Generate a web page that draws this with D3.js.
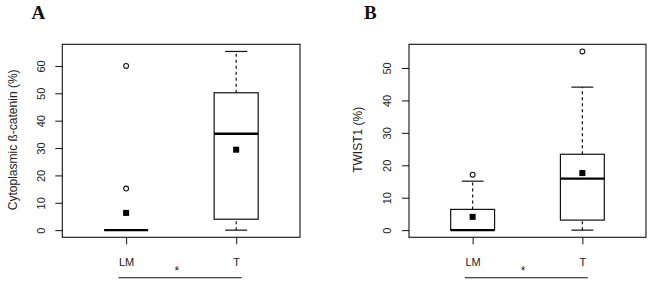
<!DOCTYPE html>
<html>
<head>
<meta charset="utf-8">
<script src="https://cdn.jsdelivr.net/npm/d3@7"></script>
<style>
  body { margin: 0; background: #fff; }
  svg { display: block; }
</style>
</head>
<body>
<div id="chart"></div>
<script>
// groups on the x axis
var categories = ['LM', 'T'];

// panel A: cytoplasmic beta-catenin (%)
var betaLow = [0, 0];        // lower whisker
var betaQ1 = [0, 4];
var betaMedian = [0, 35.2];
var betaQ3 = [0, 50.2];
var betaHigh = [0, 65.3];    // upper whisker
var betaMean = [6.3, 29.4];
var betaOutliers = [[60, 15.2], []];
var betaTicks = [0, 10, 20, 30, 40, 50, 60];

// panel B: TWIST1 (%)
var twistLow = [0, 0];
var twistQ1 = [0, 3.1];
var twistMedian = [0, 15.9];
var twistQ3 = [6.4, 23.4];
var twistHigh = [15.1, 44.1];
var twistMean = [4.1, 17.6];
var twistOutliers = [[17.1], [55.1]];
var twistTicks = [0, 10, 20, 30, 40, 50];

var width = 650;
var height = 283;
var font = '"Liberation Sans", Arial, sans-serif';
var textColor = '#222';

var svg = d3.select('#chart').append('svg')
    .attr('width', width)
    .attr('height', height);

drawPanel({
    letter: 'A', letterX: 31.5,
    left: 62.3, right: 300, top: 44.3, bottom: 237.3,
    ymax: 65.3, ticks: betaTicks,
    tickLabelX: 45.3, titleX: 16.5,
    title: 'Cytoplasmic \u00df-catenin (%)',
    low: betaLow, q1: betaQ1, med: betaMedian, q3: betaQ3, high: betaHigh,
    mean: betaMean, outliers: betaOutliers
});

drawPanel({
    letter: 'B', letterX: 364,
    left: 409, right: 646, top: 44.3, bottom: 237.3,
    ymax: 55.1, ticks: twistTicks,
    tickLabelX: 390.5, titleX: 361.5,
    title: 'TWIST1 (%)',
    low: twistLow, q1: twistQ1, med: twistMedian, q3: twistQ3, high: twistHigh,
    mean: twistMean, outliers: twistOutliers
});

function drawPanel(p) {
    var g = svg.append('g');

    // R style 4% padding on both axes
    var pad = p.ymax * 0.04;
    var y = d3.scaleLinear()
        .domain([-pad, p.ymax + pad])
        .range([p.bottom, p.top]);
    var x = d3.scaleLinear()
        .domain([0.42, 2.58])
        .range([p.left, p.right]);
    var boxW = x(1.4) - x(1);
    var capW = boxW / 2;

    // panel letter
    g.append('text')
        .attr('x', p.letterX)
        .attr('y', 18.5)
        .style('font-family', '"Liberation Serif", "Times New Roman", serif')
        .style('font-weight', 'bold')
        .style('font-size', '19px')
        .style('fill', '#111')
        .text(p.letter);

    // y axis
    var yAxis = g.append('g')
        .attr('transform', 'translate(' + p.left + ',0)')
        .call(d3.axisLeft(y).tickValues(p.ticks).tickSize(7).tickPadding(0));
    yAxis.select('.domain').remove();
    yAxis.selectAll('.tick line').attr('stroke', '#111').attr('stroke-width', 1);
    yAxis.selectAll('.tick text')
        .attr('x', null).attr('dy', null)
        .attr('transform', 'translate(' + (p.tickLabelX - p.left) + ',0) rotate(-90)')
        .attr('text-anchor', 'middle')
        .style('font-family', font)
        .style('font-size', '11px')
        .style('fill', textColor);

    // x axis
    var xAxis = g.append('g')
        .attr('transform', 'translate(0,' + p.bottom + ')')
        .call(d3.axisBottom(x).tickValues([1, 2]).tickSize(7).tickPadding(0)
            .tickFormat(function(d) { return categories[d - 1]; }));
    xAxis.select('.domain').remove();
    xAxis.selectAll('.tick line').attr('stroke', '#111').attr('stroke-width', 1);
    xAxis.selectAll('.tick text')
        .attr('y', 29).attr('dy', null)
        .style('font-family', font)
        .style('font-size', '11px')
        .style('fill', textColor);

    // y title
    g.append('text')
        .attr('transform', 'translate(' + p.titleX + ',' + ((p.top + p.bottom) / 2 - 1) + ') rotate(-90)')
        .attr('text-anchor', 'middle')
        .style('font-family', font)
        .style('font-size', '12px')
        .style('fill', textColor)
        .text(p.title);

    // frame
    g.append('rect')
        .attr('x', p.left).attr('y', p.top)
        .attr('width', p.right - p.left).attr('height', p.bottom - p.top)
        .attr('fill', 'none').attr('stroke', '#111').attr('stroke-width', 1.1);

    for (var i = 0; i < categories.length; i++) {
        var cx = x(i + 1);

        // whiskers (dashed)
        [[p.low[i], p.q1[i]], [p.q3[i], p.high[i]]].forEach(function(w) {
            if (w[0] === w[1]) return;
            g.append('line')
                .attr('x1', cx).attr('x2', cx)
                .attr('y1', y(w[0])).attr('y2', y(w[1]))
                .attr('stroke', '#111').attr('stroke-width', 1.2)
                .attr('stroke-dasharray', '3,3');
        });

        // staples
        [p.low[i], p.high[i]].forEach(function(v) {
            g.append('line')
                .attr('x1', cx - capW / 2).attr('x2', cx + capW / 2)
                .attr('y1', y(v)).attr('y2', y(v))
                .attr('stroke', '#111').attr('stroke-width', 1.2);
        });

        // box
        if (p.q3[i] > p.q1[i]) {
            g.append('rect')
                .attr('x', cx - boxW / 2).attr('y', y(p.q3[i]))
                .attr('width', boxW).attr('height', y(p.q1[i]) - y(p.q3[i]))
                .attr('fill', 'none').attr('stroke', '#111').attr('stroke-width', 1.2);
        }

        // median
        g.append('line')
            .attr('x1', cx - boxW / 2).attr('x2', cx + boxW / 2)
            .attr('y1', y(p.med[i])).attr('y2', y(p.med[i]))
            .attr('stroke', '#000').attr('stroke-width', 2.4);

        // outliers
        p.outliers[i].forEach(function(v) {
            g.append('circle')
                .attr('cx', cx).attr('cy', y(v)).attr('r', 2.4)
                .attr('fill', 'none').attr('stroke', '#111').attr('stroke-width', 1.1);
        });

        // mean
        g.append('rect')
            .attr('x', cx - 3).attr('y', y(p.mean[i]) - 3)
            .attr('width', 6).attr('height', 6)
            .attr('fill', '#000');
    }

    // significance bar
    g.append('line')
        .attr('x1', x(0.93)).attr('x2', x(2.05))
        .attr('y1', 277.7).attr('y2', 277.7)
        .attr('stroke', '#111').attr('stroke-width', 1.1);
    g.append('text')
        .attr('x', x(1.46))
        .attr('y', 275)
        .attr('text-anchor', 'middle')
        .style('font-family', font)
        .style('font-size', '12px')
        .style('fill', textColor)
        .text('*');
}
</script>
</body>
</html>
